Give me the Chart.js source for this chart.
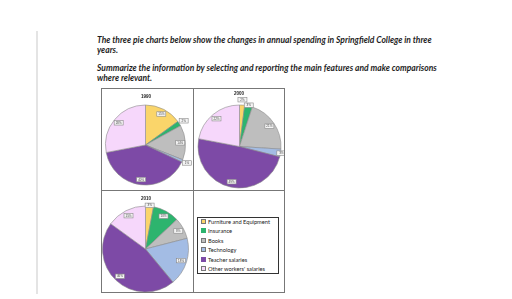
<!DOCTYPE html>
<html><head><meta charset="utf-8">
<script src="https://cdn.jsdelivr.net/npm/chart.js@4/dist/chart.umd.min.js"></script>
<style>
body{margin:0;width:512px;height:299px;background:#fff;position:relative;overflow:hidden;font-family:Lato,"Open Sans",sans-serif}
.vline{position:absolute;left:36px;top:31px;width:2px;height:263px;background:#e4e4e4}
.q{position:absolute;left:97px;font-weight:700;font-style:italic;font-size:8.5px;color:#1e1e1e;line-height:10px;white-space:nowrap}
.frame{position:absolute;border:1px solid #777;box-sizing:border-box}
.hl{position:absolute;background:#777}
canvas{position:absolute}
.ttl{position:absolute;font:bold 4.5px "Liberation Sans",Arial,sans-serif;color:#222;width:40px;text-align:center}
#legend{position:absolute;left:197px;top:217px;width:82px;height:57px;border:1px solid #333;box-sizing:border-box;font-family:Lato,sans-serif;font-size:5.7px;color:#222}
#legend div{position:absolute;left:3px;white-space:nowrap;line-height:6px}
#legend span{display:inline-block;width:3px;height:3px;margin-right:2px;vertical-align:0px;border:0.6px solid}
</style></head>
<body>
<div class="vline"></div>
<div class="q" style="top:35px">The three pie charts below show the changes in annual spending in Springfield College in three</div>
<div class="q" style="top:45px">years.</div>
<div class="q" style="top:63px">Summarize the information by selecting and reporting the main features and make comparisons</div>
<div class="q" style="top:73px">where relevant.</div>

<div class="frame" style="left:101px;top:88px;width:184px;height:205px"></div>
<div class="hl" style="left:193px;top:88px;width:1px;height:205px"></div>
<div class="hl" style="left:101px;top:190px;width:184px;height:1px"></div>

<canvas id="c1990"></canvas>
<canvas id="c2000"></canvas>
<canvas id="c2010"></canvas>
<div id="legend"></div>

<script>
const categories = ["Furniture and Equipment","Insurance","Books","Technology","Teacher salaries","Other workers' salaries"];
const years = ["1990","2000","2010"];
const values1990 = [15, 2, 14, 1, 40, 28];
const values2000 = [2, 3, 21, 3, 49, 22];
const values2010 = [3, 10, 8, 18, 46, 15];
const colors = ["#FAD56A","#2DB46E","#BEBEBE","#A3BCE4","#7D4AA6","#F6D7FB"];

const labelPlugin = {
  id: 'pctLabels',
  afterDatasetsDraw(chart) {
    const ctx = chart.ctx;
    const meta = chart.getDatasetMeta(0);
    const vals = chart.data.datasets[0].data;
    ctx.save();
    meta.data.forEach((arc, i) => {
      const p = arc.getProps(['x','y','startAngle','endAngle','outerRadius'], true);
      const mid = (p.startAngle + p.endAngle) / 2;
      const v = vals[i];
      const f = v <= 2 ? 1.13 : (v < 5 ? 1.02 : 0.87);
      const px = p.x + Math.cos(mid) * p.outerRadius * f;
      const py = p.y + Math.sin(mid) * p.outerRadius * f;
      const w = 9, h = 4.5;
      ctx.fillStyle = '#f4f4f4';
      ctx.strokeStyle = '#8a8a8a';
      ctx.lineWidth = 0.6;
      ctx.fillRect(px - w/2, py - h/2, w, h);
      ctx.strokeRect(px - w/2, py - h/2, w, h);
      ctx.fillStyle = '#444';
      ctx.font = '3px "Liberation Sans", Arial';
      ctx.textAlign = 'center';
      ctx.textBaseline = 'middle';
      ctx.fillText(v + '%', px, py + 0.2);
    });
    ctx.restore();
  }
};

function makePie(id, data, title, box) {
  const cv = document.getElementById(id);
  cv.width = box.w; cv.height = box.h;
  cv.style.left = box.left + 'px'; cv.style.top = box.top + 'px';
  cv.style.width = box.w + 'px'; cv.style.height = box.h + 'px';
  const R = box.r;
  const pad = {
    left: box.cx - R, right: box.w - box.cx - R,
    top: box.cy - R, bottom: box.h - box.cy - R
  };
  new Chart(cv, {
    type: 'pie',
    data: { labels: categories, datasets: [{ data: data, backgroundColor: colors, borderColor: '#8c8c8c', borderWidth: 0.6 }] },
    options: {
      responsive: false, animation: false, devicePixelRatio: 1,
      radius: R,
      layout: { padding: pad },
      plugins: { legend: { display: false }, tooltip: { enabled: false }, title: { display: false } }
    },
    plugins: [labelPlugin]
  });
  const t = document.createElement('div');
  t.className = 'ttl'; t.textContent = title;
  t.style.left = (box.left + box.tx - 20) + 'px';
  t.style.top = (box.top + box.ty) + 'px';
  document.body.appendChild(t);
}

makePie('c1990', values1990, years[0], {left:102, top:89, w:91, h:101, cx:43.5, cy:56, r:40, tx:44, ty:5});
makePie('c2000', values2000, years[1], {left:194, top:89, w:90, h:101, cx:45.5, cy:57.5, r:41.5, tx:45, ty:2});
makePie('c2010', values2010, years[2], {left:102, top:191, w:91, h:101, cx:43.5, cy:58, r:43, tx:44, ty:5});

const lg = document.getElementById('legend');
categories.forEach((c, i) => {
  const d = document.createElement('div');
  d.style.top = (1 + i * 9.4) + 'px';
  const s = document.createElement('span');
  s.style.background = colors[i];
  s.style.borderColor = i === 1 || i === 4 ? colors[i] : '#777';
  d.appendChild(s);
  d.appendChild(document.createTextNode(c));
  lg.appendChild(d);
});
</script>
</body></html>
